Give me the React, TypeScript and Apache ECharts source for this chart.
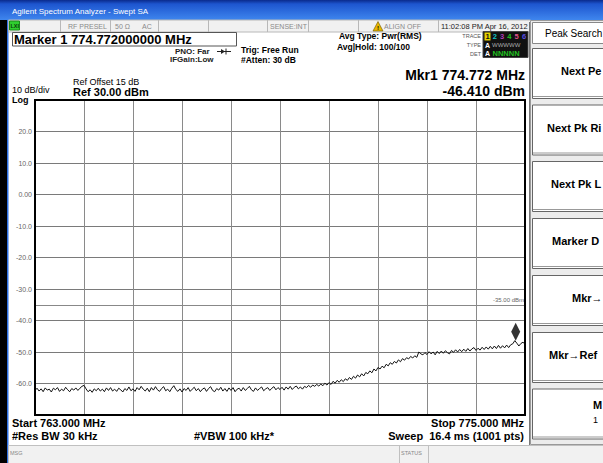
import React, { useEffect, useRef } from "react";
import * as echarts from "echarts";

// Sweep settings
const START_MHZ = 763;
const STOP_MHZ = 775;
const STEP_MHZ = 0.05;
const SWEEP_POINTS = 1001;

// Trace 1 (average), dBm, one value per STEP_MHZ from START_MHZ
const traceDbm = [
  -62.2, -61.5, -62.4, -61.7, -62.6, -61.4, -62.1, -61.8, -62.7, -61.5,
  -62.0, -61.3, -62.5, -61.8, -62.3, -61.2, -62.0, -62.6, -61.6, -62.1,
  -61.4, -62.2, -61.5, -60.9, -60.6, -61.7, -62.6, -62.0, -62.8, -61.7,
  -62.3, -61.5, -62.4, -61.8, -62.6, -61.4, -62.2, -61.3, -62.4, -61.8,
  -62.5, -61.5, -62.0, -62.7, -61.6, -62.2, -61.1, -62.3, -61.7, -62.5,
  -61.3, -62.0, -60.9, -61.8, -62.4, -61.5, -62.6, -61.3, -62.1, -61.0,
  -62.0, -62.5, -61.6, -61.0, -62.3, -61.8, -62.6, -61.5, -60.7, -61.9,
  -62.5, -61.7, -62.7, -61.6, -62.2, -61.3, -62.5, -61.8, -61.2, -62.3,
  -61.6, -62.6, -61.8, -61.4, -62.5, -61.6, -61.0, -62.2, -62.6, -61.6,
  -62.1, -61.2, -62.4, -61.6, -62.5, -61.4, -62.2, -61.3, -62.6, -61.8,
  -61.5, -62.4, -61.3, -62.2, -61.6, -60.9, -62.0, -62.5, -61.4, -62.2,
  -61.6, -61.1, -62.3, -61.7, -61.3, -62.2, -61.5, -61.0, -62.0, -61.3,
  -61.9, -61.2, -62.1, -61.1, -61.8, -60.9, -61.9, -61.2, -60.8, -61.7,
  -61.1, -61.8, -60.9, -61.3, -60.6, -61.2, -60.5, -60.9, -60.3, -60.8,
  -60.2, -60.7, -59.9, -60.5, -59.7, -60.3, -59.3, -59.9, -59.0, -59.6,
  -58.8, -59.4, -58.5, -59.0, -58.1, -58.7, -57.7, -58.3, -57.3, -57.9,
  -56.9, -57.6, -56.5, -56.9, -56.0, -56.6, -55.4, -56.0, -54.9, -55.4,
  -54.5, -55.0, -53.9, -54.4, -53.4, -53.9, -53.0, -53.5, -52.5, -53.1,
  -52.1, -52.6, -51.8, -52.2, -51.4, -51.9, -51.2, -51.7, -50.0, -50.6,
  -50.9, -50.2, -50.8, -49.9, -50.6, -50.0, -50.9, -49.8, -50.5, -49.7,
  -50.4, -49.6, -50.2, -50.6, -49.5, -50.1, -49.3, -50.0, -49.2, -49.9,
  -49.1, -49.8, -48.9, -49.7, -49.0, -48.6, -49.5, -48.8, -49.4, -48.5,
  -49.2, -48.4, -49.1, -48.2, -49.0, -48.1, -48.9, -47.9, -48.8, -48.0,
  -48.7, -47.8, -48.6, -47.7, -47.4, -46.4, -47.2, -48.1, -47.3, -46.9,
  -47.5,
];

// Marker 1 and display line
const markerFreqMhz = 774.772;
const markerDbm = -46.41;
const displayLineDbm = -35;

// Amplitude scale
const refLevelDbm = 30;
const dbPerDiv = 10;
const yTicks = [20, 10, 0, -10, -20, -30, -40, -50, -60];
const yTickLabels = ["20.0", "10.0", "0.00", "-10.0", "-20.0", "-30.0", "-40.0", "-50.0", "-60.0"];

// Softkey menu (the panel is only partly on screen)
const softkeys = [
  { label: "Next Pe", x: 561 },
  { label: "Next Pk Ri", x: 547 },
  { label: "Next Pk L", x: 551 },
  { label: "Marker D", x: 552 },
  { label: "Mkr\u2192", x: 572 },
  { label: "Mkr\u2192Ref", x: 549 },
];

const FONT = '"Liberation Sans", Arial, sans-serif';

type TxtOpts = { bold?: boolean; color?: string; align?: "left" | "right" | "center" };

function txt(text: string, x: number, y: number, size: number, o: TxtOpts = {}) {
  const align = o.align ?? "left";
  return {
    type: "text",
    x,
    y,
    z: 30,
    silent: true,
    style: {
      text,
      fill: o.color ?? "#000",
      font: `${o.bold ? "bold " : ""}${size}px ${FONT}`,
      textAlign: align,
      align,
      textVerticalAlign: "middle",
      verticalAlign: "middle",
    },
  };
}

function rect(x: number, y: number, w: number, h: number, fill: string, stroke?: string, z = 1, lineWidth = 1) {
  return {
    type: "rect",
    z,
    silent: true,
    shape: { x, y, width: w, height: h },
    style: { fill, stroke: stroke ?? "none", lineWidth },
  };
}

function vline(x: number, y1: number, y2: number, color: string, z = 2, w = 1) {
  return { type: "line", z, silent: true, shape: { x1: x, y1, x2: x, y2 }, style: { stroke: color, lineWidth: w } };
}

function hline(y: number, x1: number, x2: number, color: string, z = 2, w = 1) {
  return { type: "line", z, silent: true, shape: { x1, y1: y, x2, y2: y }, style: { stroke: color, lineWidth: w } };
}

export default function App() {
  const ref = useRef<HTMLDivElement>(null);

  useEffect(() => {
    const chart = echarts.init(ref.current!, null, { renderer: "svg" });

    const traceData = traceDbm.map((v, i) => [START_MHZ + i * STEP_MHZ, v]);

    const PLOT = { left: 35, top: 100, width: 490, height: 315 };

    const graphics: any[] = [];

    // Title bar
    graphics.push({
      type: "rect",
      z: 1,
      silent: true,
      shape: { x: 0, y: 0, width: 603, height: 20 },
      style: {
        fill: new echarts.graphic.LinearGradient(0, 0, 0, 1, [
          { offset: 0, color: "#0a2a8c" },
          { offset: 0.2, color: "#1d55cf" },
          { offset: 1, color: "#3f86ee" },
        ]),
      },
    });
    graphics.push(txt("Agilent Spectrum Analyzer - Swept SA", 12, 11, 8, { color: "#fff" }));

    // Left frame
    graphics.push(rect(0, 20, 7, 443, "#000"));
    graphics.push(rect(7, 20, 1.5, 443, "#2d6fe0"));

    // Status row
    graphics.push(rect(8.5, 20, 522, 12, "#f1f1f1", "#b8b8b8", 1));
    for (const x of [60, 110, 158, 208, 267, 308, 358, 438]) graphics.push(vline(x + 0.5, 20, 32, "#b8b8b8"));
    graphics.push(rect(9.5, 21, 10, 9, "#2fcf2f", "#1a8a1a", 3));
    graphics.push(txt("LXI", 10.5, 25.8, 5.5, { bold: true, color: "#0a3a0a" }));
    graphics.push(txt("RF PRESEL", 68, 26.5, 7, { color: "#8a8a8a" }));
    graphics.push(txt("50 \u03a9", 115, 26.5, 7, { color: "#8a8a8a" }));
    graphics.push(txt("AC", 142, 26.5, 7, { color: "#8a8a8a" }));
    graphics.push(txt("SENSE:INT", 270, 26.5, 7, { color: "#8a8a8a" }));
    graphics.push({
      type: "polygon",
      z: 3,
      silent: true,
      shape: { points: [[373, 31], [378, 21.5], [383, 31]] },
      style: { fill: "#e8b800", stroke: "#6a5200", lineWidth: 0.6 },
    });
    graphics.push(txt("!", 378, 27.5, 6, { bold: true, align: "center" }));
    graphics.push(txt("ALIGN OFF", 384, 26.5, 7, { color: "#8a8a8a" }));
    graphics.push(txt("11:02:08 PM Apr 16, 2012", 441, 26.5, 7.5, { color: "#222" }));

    // Marker readout box
    graphics.push(rect(12.5, 32.5, 224, 13.5, "#fff", "#555", 2));
    graphics.push(txt(`Marker 1 ${markerFreqMhz.toFixed(9)} MHz`, 14, 39.5, 13, { bold: true }));

    // Acquisition settings
    graphics.push(txt("PNO: Far", 175, 51, 8, { bold: true, color: "#222" }));
    graphics.push(hline(51.5, 217, 231, "#222"));
    graphics.push({ type: "polygon", z: 3, silent: true, shape: { points: [[221, 49], [225, 51.5], [221, 54]] }, style: { fill: "#222" } });
    graphics.push(vline(226, 48.5, 54.5, "#222"));
    graphics.push(txt("IFGain:Low", 170, 59.5, 8, { bold: true, color: "#222" }));
    graphics.push(txt("Trig: Free Run", 241, 50, 8.5, { bold: true }));
    graphics.push(txt("#Atten: 30 dB", 241, 59.5, 8.5, { bold: true }));
    graphics.push(txt("Avg Type: Pwr(RMS)", 339, 36, 8.5, { bold: true }));
    graphics.push(txt("Avg|Hold: 100/100", 337, 46.5, 8.5, { bold: true }));

    // Trace status block
    graphics.push(txt("TRACE", 481, 36, 5.5, { align: "right", color: "#555" }));
    graphics.push(txt("TYPE", 481, 45, 5.5, { align: "right", color: "#555" }));
    graphics.push(txt("DET", 481, 53.5, 5.5, { align: "right", color: "#555" }));
    graphics.push(rect(483, 31.5, 45, 26, "#111", "#444", 2));
    graphics.push(rect(484.5, 32.5, 6, 8, "#e6d200", undefined, 3));
    const traceColors = ["#111", "#12c6c6", "#b23ab8", "#22c022", "#e0508a", "#5a4ee0"];
    traceColors.forEach((c, i) => graphics.push(txt(String(i + 1), 487.5 + i * 7.3, 36.8, 7.5, { bold: true, color: c, align: "center" })));
    graphics.push(txt("A", 487.5, 45.2, 7, { bold: true, color: "#fff", align: "center" }));
    graphics.push(txt("WWWWW", 492, 45.2, 6, { color: "#aaa" }));
    graphics.push(txt("A", 487.5, 53.3, 7, { bold: true, color: "#fff", align: "center" }));
    graphics.push(txt("NNNNN", 492.5, 53.3, 7.5, { bold: true, color: "#22c022" }));

    // Scale and marker annotation
    graphics.push(txt("Ref Offset 15 dB", 73, 81.5, 9, {}));
    graphics.push(txt(`Ref ${refLevelDbm.toFixed(2)} dBm`, 73, 92, 11, { bold: true }));
    graphics.push(txt(`${dbPerDiv} dB/div`, 12, 90, 9, {}));
    graphics.push(txt("Log", 12, 99.5, 9, { bold: true }));
    graphics.push(txt(`Mkr1 ${markerFreqMhz.toFixed(3)} MHz`, 525, 75, 14, { bold: true, align: "right" }));
    graphics.push(txt(`${markerDbm.toFixed(3)} dBm`, 525, 90.5, 14, { bold: true, align: "right" }));

    // Plot frame
    graphics.push({
      type: "rect",
      z: 40,
      silent: true,
      shape: { x: PLOT.left, y: PLOT.top, width: PLOT.width, height: PLOT.height },
      style: { fill: "none", stroke: "#000", lineWidth: 2 },
    });
    graphics.push(vline(529.5, 22, 445, "#777", 2, 1));

    // Sweep annotation
    graphics.push(txt(`Start ${START_MHZ.toFixed(3)} MHz`, 12, 423, 11, { bold: true }));
    graphics.push(txt("#Res BW 30 kHz", 12, 436, 11, { bold: true }));
    graphics.push(txt("#VBW 100 kHz*", 194, 436, 11, { bold: true }));
    graphics.push(txt(`Stop ${STOP_MHZ.toFixed(3)} MHz`, 524, 423, 11, { bold: true, align: "right" }));
    graphics.push(txt(`Sweep  16.4 ms (${SWEEP_POINTS} pts)`, 524, 436, 11, { bold: true, align: "right" }));

    // Message bar
    graphics.push(rect(8.5, 445.5, 595, 18, "#f1f1f1", "#c0c0c0", 1));
    graphics.push(vline(399.5, 445, 463, "#c0c0c0"));
    graphics.push(vline(428.5, 445, 463, "#c0c0c0"));
    graphics.push(txt("MSG", 10, 452.5, 5.5, { color: "#888" }));
    graphics.push(txt("STATUS", 401, 452.5, 5.5, { color: "#888" }));

    // Softkey panel
    graphics.push(rect(530.5, 20.5, 73, 424, "#ececec", "#999", 1));
    graphics.push(rect(532.5, 22.5, 72, 21, "#fff", "#888", 2));
    graphics.push(txt("Peak Search", 545, 33, 10, {}));
    const keyTops = [48, 104.5, 161, 218, 275, 332, 388.5];
    keyTops.forEach((t) => {
      graphics.push(rect(532.5, t + 0.5, 72, 50, "#fff", "#666", 2));
      graphics.push(hline(t + 48.5, 533, 604, "#999", 3, 1));
    });
    softkeys.forEach((k, i) => graphics.push(txt(k.label, k.x, keyTops[i] + 23, 11, { bold: true })));
    graphics.push(txt("M", 593, 405, 11, { bold: true }));
    graphics.push(txt("1", 593, 420, 9, {}));

    const option: any = {
      animation: false,
      backgroundColor: "#fff",
      textStyle: { fontFamily: FONT },
      grid: { left: PLOT.left, top: PLOT.top, width: PLOT.width, height: PLOT.height, containLabel: false },
      xAxis: [
        {
          type: "value",
          min: START_MHZ,
          max: STOP_MHZ,
          axisLine: { show: false },
          axisTick: { show: false },
          axisLabel: { show: false },
          splitLine: { show: false },
        },
        {
          // ten horizontal divisions
          type: "value",
          min: 0,
          max: 10,
          interval: 1,
          position: "top",
          axisLine: { show: false },
          axisTick: { show: false },
          axisLabel: { show: false },
          splitLine: { show: true, lineStyle: { color: "#8a8a8a", width: 1 } },
        },
      ],
      yAxis: {
        type: "value",
        min: refLevelDbm - 10 * dbPerDiv,
        max: refLevelDbm,
        interval: dbPerDiv,
        axisLine: { show: false },
        axisTick: { show: false },
        axisLabel: {
          margin: 3,
          fontSize: 7,
          color: "#666",
          formatter: (v: number) => {
            const idx = yTicks.indexOf(v);
            return idx >= 0 ? yTickLabels[idx] : "";
          },
        },
        splitLine: { show: true, lineStyle: { color: "#7a7a7a", width: 1 } },
      },
      series: [
        {
          type: "line",
          name: "Trace 1",
          xAxisIndex: 0,
          data: traceData,
          symbol: "none",
          lineStyle: { color: "#111", width: 1 },
          z: 5,
          markLine: {
            silent: true,
            symbol: "none",
            lineStyle: { color: "#888", width: 1, type: "solid" },
            label: {
              show: true,
              position: "insideEndTop",
              formatter: `${displayLineDbm.toFixed(2)} dBm`,
              fontSize: 6,
              color: "#666",
              distance: [1, 2],
            },
            data: [{ yAxis: displayLineDbm }],
          },
        },
        {
          type: "scatter",
          name: "Marker 1",
          xAxisIndex: 0,
          data: [[markerFreqMhz, markerDbm]],
          symbol: "diamond",
          symbolSize: [9, 18],
          symbolOffset: [0, -9],
          itemStyle: { color: "#000" },
          z: 6,
        },
      ],
      graphic: { elements: graphics },
    };

    chart.setOption(option);
    return () => chart.dispose();
  }, []);

  return <div ref={ref} style={{ position: "fixed", left: 0, top: 0, width: 603, height: 463 }} />;
}
